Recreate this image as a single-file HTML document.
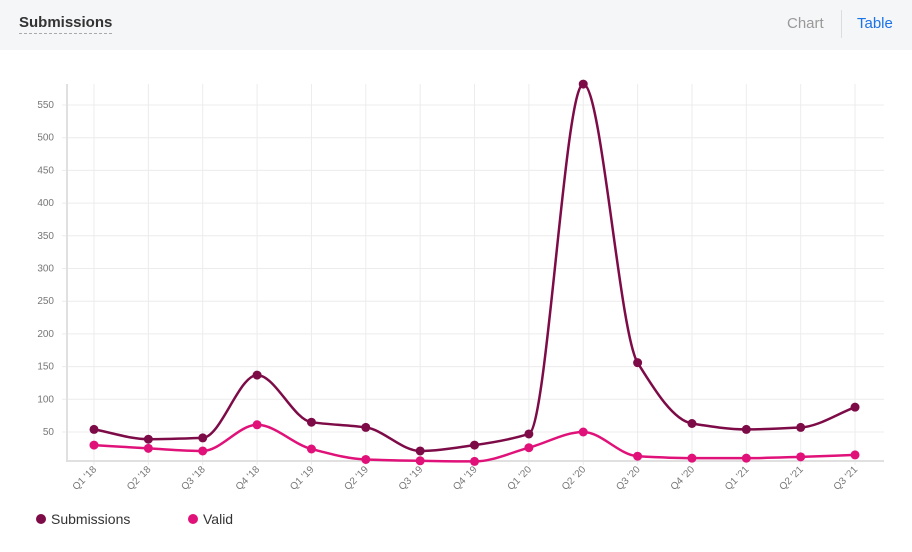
<!DOCTYPE html>
<html><head><meta charset="utf-8"><style>
body{margin:0;width:912px;height:552px;background:#fff;font-family:"Liberation Sans",sans-serif;overflow:hidden;position:relative}
.hd{position:absolute;left:0;top:0;width:912px;height:50px;background:#f5f6f8}
.t{position:absolute;left:19px;top:14px;font-size:15px;font-weight:bold;color:#333;border-bottom:1px dashed #aaa;padding-bottom:2px}
.c{position:absolute;left:787px;top:15px;font-size:15px;color:#999}
.s{position:absolute;left:841px;top:10px;width:1px;height:28px;background:#ddd}
.tb{position:absolute;left:857px;top:15px;font-size:15px;color:#1a73e8}
svg{position:absolute;left:0;top:0}
</style></head><body>
<div class="hd"><div class="t">Submissions</div><div class="c">Chart</div><div class="s"></div><div class="tb">Table</div></div>
<svg id="g" width="912" height="552"></svg>
<script>
const sub=[54,39,41,137,65,57,21,30,47,582,156,63,54,57,88];
const val=[30,25,21,61,24,8,6,5,26,50,13,10,10,12,15];
const lab=["Q1 '18","Q2 '18","Q3 '18","Q4 '18","Q1 '19","Q2 '19","Q3 '19","Q4 '19","Q1 '20","Q2 '20","Q3 '20","Q4 '20","Q1 '21","Q2 '21","Q3 '21"];
const X=i=>94+i*54.36, Y=v=>464.7-v*0.654;
let s='';
for(let v=50;v<=550;v+=50){s+=`<line x1="62" x2="884" y1="${Y(v)}" y2="${Y(v)}" stroke="#ececec"/><text x="54" y="${Y(v)+3}" font-size="10" fill="#777" text-anchor="end">${v}</text>`;}
for(let i=0;i<15;i++){s+=`<line x1="${X(i)}" x2="${X(i)}" y1="84" y2="465" stroke="#ececec"/><text transform="translate(${X(i)+3},470) rotate(-45)" font-size="10" fill="#777" text-anchor="end">${lab[i]}</text>`;}
s+=`<line x1="67" x2="67" y1="84" y2="461" stroke="#e0e0e0" stroke-width="2"/><line x1="66" x2="884" y1="461" y2="461" stroke="#e0e0e0" stroke-width="2"/>`;
function path(d){const n=d.length,x=d.map((_,i)=>X(i)),y=d.map(Y);const dl=[],m=[];
for(let i=0;i<n-1;i++)dl.push((y[i+1]-y[i])/(x[i+1]-x[i]));
m[0]=dl[0];m[n-1]=dl[n-2];for(let i=1;i<n-1;i++)m[i]=dl[i-1]*dl[i]<=0?0:3*(dl[i-1]+dl[i])/ ( (2*dl[i]+dl[i-1])/dl[i-1]*1 + (dl[i]+2*dl[i-1])/dl[i] ) ;
let p=`M${x[0]},${y[0]}`;for(let i=0;i<n-1;i++){const h=(x[i+1]-x[i])/3;p+=`C${x[i]+h},${y[i]+m[i]*h} ${x[i+1]-h},${y[i+1]-m[i+1]*h} ${x[i+1]},${y[i+1]}`;}return p;}
function ser(d,c){let o=`<path d="${path(d)}" fill="none" stroke="${c}" stroke-width="2.5"/>`;d.forEach((v,i)=>o+=`<circle cx="${X(i)}" cy="${Y(v)}" r="4.5" fill="${c}"/>`);return o;}
s+=ser(val,"#e0127a")+ser(sub,"#7d0b47");
s+=`<circle cx="41" cy="519" r="5" fill="#7d0b47"/><text x="51" y="524" font-size="14" fill="#333">Submissions</text><circle cx="193" cy="519" r="5" fill="#e0127a"/><text x="203" y="524" font-size="14" fill="#333">Valid</text>`;
document.getElementById('g').innerHTML=s;
</script>
</body></html>
